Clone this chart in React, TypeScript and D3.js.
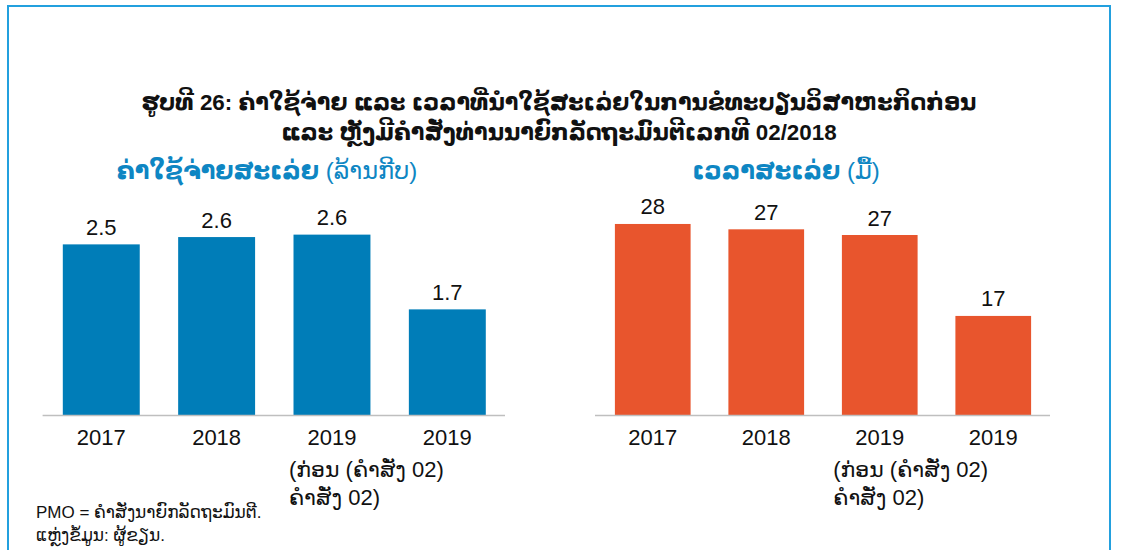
import React from "react";
import * as d3 from "d3";

const categories = ["2017", "2018", "2019", "2019"];
const categoryExtraLines: string[][] = [[], [], ["(ກ່ອນ (ຄຳສັ່ງ 02)", "ຄຳສັ່ງ 02)"], []];
const costValues = [2.5, 2.59, 2.62, 1.7];
const timeValues = [28, 27.36, 26.68, 17];

const titleLines = [
  "ຮູບທີ 26: ຄ່າໃຊ້ຈ່າຍ ແລະ ເວລາທີ່ນຳໃຊ້ສະເລ່ຍໃນການຂໍທະບຽນວິສາຫະກິດກ່ອນ",
  "ແລະ ຫຼັງມີຄຳສັ່ງທ່ານນາຍົກລັດຖະມົນຕີເລກທີ 02/2018",
];
const costTitle = ["ຄ່າໃຊ້ຈ່າຍສະເລ່ຍ", " (ລ້ານກີບ)"];
const timeTitle = ["ເວລາສະເລ່ຍ", " (ມື້)"];
const footnotes = ["PMO = ຄຳສັ່ງນາຍົກລັດຖະມົນຕີ.", "ແຫຼ່ງຂໍ້ມູນ: ຜູ້ຂຽນ."];

const FONT = "'Liberation Sans', Arial, 'DejaVu Sans', sans-serif";
const BLUE = "#007DB8";
const ORANGE = "#E8552D";
const TITLE_BLUE = "#0E86C3";

type PanelProps = {
  values: number[];
  xRange: [number, number];
  yDomain: [number, number];
  yTop: number;
  color: string;
  fmt: (v: number) => string;
  title: string[];
  titleX: number;
  extraOffset: number;
};

const AXIS_Y = 415;

function Panel({ values, xRange, yDomain, yTop, color, fmt, title, titleX, extraOffset }: PanelProps) {
  const x = d3.scaleBand<number>()
    .domain(d3.range(categories.length))
    .range(xRange)
    .paddingInner(0.333)
    .paddingOuter(0.1665);
  const y = d3.scaleLinear().domain(yDomain).range([AXIS_Y, yTop]);
  return (
    <g>
      <text x={titleX} y={179} textAnchor="middle" fontSize={24} fill={TITLE_BLUE} fontFamily={FONT}>
        <tspan fontWeight="bold">{title[0]}</tspan>
        <tspan>{title[1]}</tspan>
      </text>
      {values.map((v, i) => (
        <g key={i}>
          <rect x={x(i)} y={y(v)} width={x.bandwidth()} height={AXIS_Y - y(v)} fill={color} />
          <text x={(x(i) as number) + x.bandwidth() / 2} y={y(v) - 9.5} textAnchor="middle" fontSize={22} fill="#111" fontFamily={FONT}>
            {fmt(v)}
          </text>
        </g>
      ))}
      <line x1={xRange[0] - 1} x2={xRange[1]} y1={AXIS_Y + 0.5} y2={AXIS_Y + 0.5} stroke="#BFBFBF" strokeWidth={1.5} />
      {categories.map((c, i) => {
        const cx = (x(i) as number) + x.bandwidth() / 2;
        return (
          <g key={i} fontSize={22} fill="#111" fontFamily={FONT}>
            <text x={cx} y={445} textAnchor="middle">{c}</text>
            {categoryExtraLines[i].map((l, j) => (
              <text key={j} x={cx + extraOffset} y={477 + j * 28} textAnchor="start">{l}</text>
            ))}
          </g>
        );
      })}
    </g>
  );
}

export default function App() {
  return (
    <svg width={1122} height={550} style={{ position: "absolute", left: 0, top: 0, background: "#fff" }}>
      <rect x={8} y={6} width={1102} height={600} fill="none" stroke="#23A0DE" strokeWidth={2} />
      {titleLines.map((t, i) => (
        <text key={i} x={559} y={110 + i * 30} textAnchor="middle" fontSize={22.4} fontWeight="bold" fill="#111" fontFamily={FONT}>
          {t}
        </text>
      ))}
      <Panel values={costValues} xRange={[43.6, 505]} yDomain={[0.4, 3.0]} yTop={203.75} color={BLUE}
        fmt={d3.format(".1f")} title={costTitle} titleX={267} extraOffset={-43} />
      <Panel values={timeValues} xRange={[596, 1050]} yDomain={[5.15, 30]} yTop={207.25} color={ORANGE}
        fmt={d3.format(".0f")} title={timeTitle} titleX={786} extraOffset={-46.5} />
      {footnotes.map((f, i) => (
        <text key={i} x={36} y={518 + i * 23} fontSize={17} fill="#111" fontFamily={FONT}>{f}</text>
      ))}
    </svg>
  );
}
